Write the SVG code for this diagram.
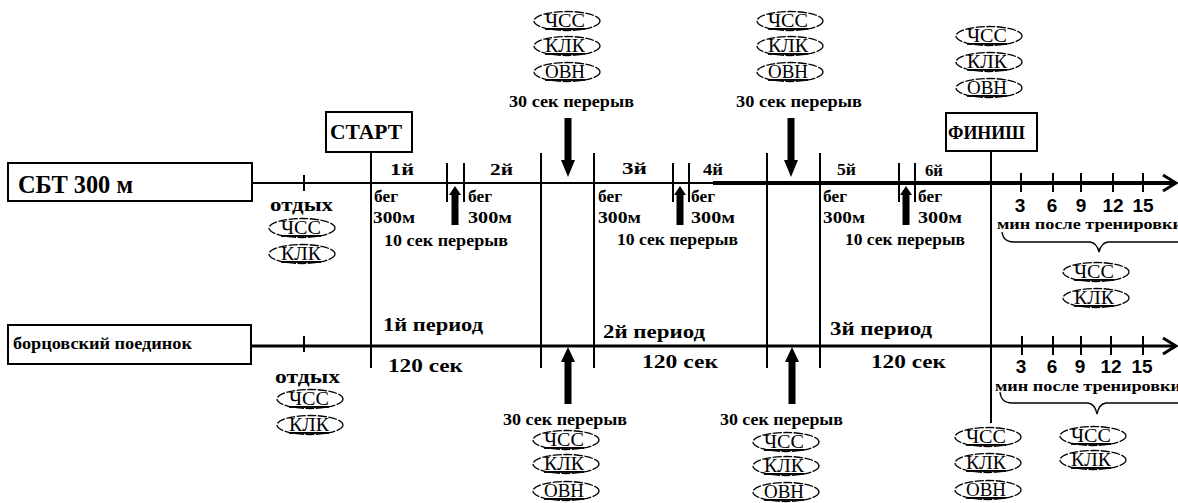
<svg xmlns="http://www.w3.org/2000/svg" width="1178" height="503" viewBox="0 0 1178 503">
  <style>
    .b { font-family: "Liberation Serif", "Times New Roman", serif; font-weight: bold; fill: #000; }
    .n { font-family: "Liberation Sans", Arial, sans-serif; font-weight: bold; font-size: 19px; fill: #000; text-anchor: middle; }
    .m { font-family: "Liberation Serif", "Times New Roman", serif; font-size: 19px; fill: #000; text-anchor: middle; text-decoration: underline; }
    .e { fill: #fff; stroke: #000; stroke-width: 1.3; stroke-dasharray: 9 1.5; }
    .box { fill: #fff; stroke: #000; stroke-width: 2; }
    .ln { stroke: #000; stroke-width: 2; fill: none; }
    .thk { stroke: #000; stroke-width: 3; fill: none; }
    .arr { fill: #000; stroke: none; }
    .brace { fill: none; stroke: #000; stroke-width: 1.3; }
  </style>
  <defs>
    <!-- measurement badge: dashed ellipse with underlined label -->
    <ellipse id="ov" class="e" cx="0" cy="0" rx="33" ry="9.5"/>
    <!-- large break arrow pointing down (tip at origin) -->
    <path id="dn" class="arr" d="M-3.5,-59 L3.5,-59 L3.5,-17 L7,-17 L0,0 L-7,-17 L-3.5,-17 Z"/>
    <!-- large break arrow pointing up (tip at origin) -->
    <path id="up" class="arr" d="M-3.5,57 L3.5,57 L3.5,15 L7,15 L0,0 L-7,15 L-3.5,15 Z"/>
    <!-- short rest arrow pointing up (tip at origin) -->
    <path id="upS" class="arr" d="M-3.5,39 L3.5,39 L3.5,9 L6,9 L0,0 L-6,9 L-3.5,9 Z"/>
  </defs>

  <!-- connectors: time axes, dividers, ticks, arrows, braces -->
  <g id="connectors">
    <!-- upper axis -->
    <line class="ln" x1="252" y1="183" x2="715" y2="183"/>
    <line x1="713" y1="183" x2="1174" y2="183" stroke="#000" stroke-width="4"/>
    <polyline class="thk" points="1163,175 1176,183 1163,191"/>
    <line class="ln" x1="304" y1="175" x2="304" y2="191"/>
    <!-- lower axis -->
    <line class="thk" x1="251" y1="346" x2="1174" y2="346"/>
    <polyline class="thk" points="1163,338 1176,346 1163,354"/>
    <line class="ln" x1="304" y1="336" x2="304" y2="352"/>

    <!-- long period dividers -->
    <line class="ln" x1="371" y1="152" x2="371" y2="368"/>
    <line class="ln" x1="541" y1="153" x2="541" y2="368"/>
    <line class="ln" x1="594" y1="153" x2="594" y2="368"/>
    <line class="ln" x1="767" y1="153" x2="767" y2="368"/>
    <line class="ln" x1="820" y1="153" x2="820" y2="368"/>
    <line class="ln" x1="991" y1="151" x2="991" y2="423"/>

    <!-- short rest markers -->
    <line class="ln" x1="447" y1="163" x2="447" y2="202"/>
    <line class="ln" x1="464" y1="163" x2="464" y2="202"/>
    <line class="ln" x1="673" y1="163" x2="673" y2="202"/>
    <line class="ln" x1="689" y1="163" x2="689" y2="202"/>
    <line class="ln" x1="899" y1="163" x2="899" y2="202"/>
    <line class="ln" x1="915" y1="163" x2="915" y2="202"/>
    <use href="#upS" x="455" y="186"/>
    <use href="#upS" x="680" y="186"/>
    <use href="#upS" x="906" y="186"/>

    <!-- 30 s break arrows -->
    <use href="#dn" x="568" y="177"/>
    <use href="#dn" x="791" y="177"/>
    <use href="#up" x="568" y="347"/>
    <use href="#up" x="792" y="347"/>

    <!-- minute ticks, upper axis -->
    <line class="ln" x1="1021" y1="173" x2="1021" y2="192"/>
    <line class="ln" x1="1053" y1="173" x2="1053" y2="192"/>
    <line class="ln" x1="1081" y1="173" x2="1081" y2="192"/>
    <line class="ln" x1="1113" y1="173" x2="1113" y2="192"/>
    <line class="ln" x1="1143" y1="173" x2="1143" y2="192"/>
    <!-- minute ticks, lower axis -->
    <line class="ln" x1="1022" y1="336" x2="1022" y2="355"/>
    <line class="ln" x1="1053" y1="336" x2="1053" y2="355"/>
    <line class="ln" x1="1081" y1="336" x2="1081" y2="355"/>
    <line class="ln" x1="1111" y1="336" x2="1111" y2="355"/>
    <line class="ln" x1="1143" y1="336" x2="1143" y2="355"/>

    <!-- braces under the recovery scale -->
    <path class="brace" d="M1002,232 Q1003,242 1014,242 L1090,242 Q1097,243 1099,252 Q1101,243 1108,242 L1180,242"/>
    <path class="brace" d="M1000,392 Q1001,403 1012,403 L1088,403 Q1095,404 1097,414 Q1099,404 1106,403 L1180,403"/>
  </g>

  <!-- row labels -->
  <g id="sbt-label">
    <rect class="box" x="8" y="163" width="244" height="38"/>
    <text class="b" x="18" y="193" font-size="25" textLength="115" lengthAdjust="spacingAndGlyphs">СБТ 300 м</text>
  </g>
  <g id="bout-label">
    <rect class="box" x="8" y="325" width="243" height="39"/>
    <text class="b" x="13" y="349" font-size="16" textLength="179" lengthAdjust="spacingAndGlyphs">борцовский поединок</text>
  </g>

  <g id="start">
    <rect class="box" x="326" y="112" width="86" height="40"/>
    <text class="b" x="330" y="139" font-size="20" textLength="72" lengthAdjust="spacingAndGlyphs">СТАРТ</text>
  </g>
  <g id="finish">
    <rect class="box" x="946" y="113" width="91" height="38"/>
    <text class="b" x="948" y="139" font-size="19" textLength="77" lengthAdjust="spacingAndGlyphs">ФИНИШ</text>
  </g>

  <!-- rest before the run -->
  <g id="rest-top">
    <text class="b" x="270" y="211" font-size="18" textLength="63" lengthAdjust="spacingAndGlyphs">отдых</text>
    <use href="#ov" x="302" y="228"/><text class="m" x="301" y="234" textLength="40" lengthAdjust="spacingAndGlyphs">ЧСС</text>
    <use href="#ov" x="302" y="254"/><text class="m" x="301" y="260" textLength="40" lengthAdjust="spacingAndGlyphs">КЛК</text>
  </g>

  <!-- run segments -->
  <g id="runs" class="b" font-size="17">
    <text x="390" y="175" textLength="24" lengthAdjust="spacingAndGlyphs">1й</text>
    <text x="490" y="175" textLength="23" lengthAdjust="spacingAndGlyphs">2й</text>
    <text x="622" y="174" textLength="25" lengthAdjust="spacingAndGlyphs">3й</text>
    <text x="703" y="175" textLength="20" lengthAdjust="spacingAndGlyphs">4й</text>
    <text x="837" y="175" textLength="19" lengthAdjust="spacingAndGlyphs">5й</text>
    <text x="925" y="176" textLength="18" lengthAdjust="spacingAndGlyphs">6й</text>

    <g font-size="16">
      <text x="374" y="202" textLength="24" lengthAdjust="spacingAndGlyphs">бег</text>
      <text x="373" y="223" textLength="42" lengthAdjust="spacingAndGlyphs">300м</text>
      <text x="468" y="202" textLength="24" lengthAdjust="spacingAndGlyphs">бег</text>
      <text x="468" y="223" textLength="44" lengthAdjust="spacingAndGlyphs">300м</text>
      <text x="598" y="202" textLength="24" lengthAdjust="spacingAndGlyphs">бег</text>
      <text x="598" y="223" textLength="43" lengthAdjust="spacingAndGlyphs">300м</text>
      <text x="691" y="202" textLength="24" lengthAdjust="spacingAndGlyphs">бег</text>
      <text x="691" y="223" textLength="44" lengthAdjust="spacingAndGlyphs">300м</text>
      <text x="823" y="202" textLength="24" lengthAdjust="spacingAndGlyphs">бег</text>
      <text x="823" y="223" textLength="42" lengthAdjust="spacingAndGlyphs">300м</text>
      <text x="918" y="202" textLength="24" lengthAdjust="spacingAndGlyphs">бег</text>
      <text x="918" y="223" textLength="44" lengthAdjust="spacingAndGlyphs">300м</text>

      <text x="384" y="246" textLength="124" lengthAdjust="spacingAndGlyphs">10 сек перерыв</text>
      <text x="617" y="245" textLength="121" lengthAdjust="spacingAndGlyphs">10 сек перерыв</text>
      <text x="845" y="245" textLength="120" lengthAdjust="spacingAndGlyphs">10 сек перерыв</text>
    </g>
  </g>

  <!-- 30 s breaks on the run row -->
  <g id="break-top-1">
    <use href="#ov" x="567" y="21"/><text class="m" x="565" y="27" textLength="40" lengthAdjust="spacingAndGlyphs">ЧСС</text>
    <use href="#ov" x="567" y="46"/><text class="m" x="565" y="52" textLength="40" lengthAdjust="spacingAndGlyphs">КЛК</text>
    <use href="#ov" x="567" y="72"/><text class="m" x="565" y="78" textLength="40" lengthAdjust="spacingAndGlyphs">ОВН</text>
    <text class="b" x="509" y="107" font-size="16" textLength="125" lengthAdjust="spacingAndGlyphs">30 сек перерыв</text>
  </g>
  <g id="break-top-2">
    <use href="#ov" x="790" y="21"/><text class="m" x="788" y="27" textLength="40" lengthAdjust="spacingAndGlyphs">ЧСС</text>
    <use href="#ov" x="790" y="46"/><text class="m" x="788" y="52" textLength="40" lengthAdjust="spacingAndGlyphs">КЛК</text>
    <use href="#ov" x="790" y="72"/><text class="m" x="788" y="78" textLength="40" lengthAdjust="spacingAndGlyphs">ОВН</text>
    <text class="b" x="736" y="107" font-size="16" textLength="126" lengthAdjust="spacingAndGlyphs">30 сек перерыв</text>
  </g>
  <g id="finish-top">
    <use href="#ov" x="989" y="36"/><text class="m" x="987" y="42" textLength="40" lengthAdjust="spacingAndGlyphs">ЧСС</text>
    <use href="#ov" x="989" y="62"/><text class="m" x="987" y="68" textLength="40" lengthAdjust="spacingAndGlyphs">КЛК</text>
    <use href="#ov" x="989" y="88"/><text class="m" x="987" y="94" textLength="40" lengthAdjust="spacingAndGlyphs">ОВН</text>
  </g>

  <!-- recovery scale, upper row -->
  <g id="recovery-top">
    <text class="n" x="1020" y="212">3</text>
    <text class="n" x="1052" y="212">6</text>
    <text class="n" x="1081" y="212">9</text>
    <text class="n" x="1113" y="212">12</text>
    <text class="n" x="1143" y="212">15</text>
    <text class="b" x="997" y="229" font-size="14" textLength="186" lengthAdjust="spacingAndGlyphs">мин после тренировки</text>
    <use href="#ov" x="1096" y="272"/><text class="m" x="1094" y="278" textLength="40" lengthAdjust="spacingAndGlyphs">ЧСС</text>
    <use href="#ov" x="1096" y="298"/><text class="m" x="1094" y="304" textLength="40" lengthAdjust="spacingAndGlyphs">КЛК</text>
  </g>

  <!-- bout periods -->
  <g id="periods" class="b">
    <text x="383" y="331" font-size="18" textLength="100" lengthAdjust="spacingAndGlyphs">1й период</text>
    <text x="388" y="372" font-size="19" textLength="75" lengthAdjust="spacingAndGlyphs">120 сек</text>
    <text x="603" y="338" font-size="18" textLength="102" lengthAdjust="spacingAndGlyphs">2й период</text>
    <text x="642" y="368" font-size="19" textLength="76" lengthAdjust="spacingAndGlyphs">120 сек</text>
    <text x="830" y="335" font-size="18" textLength="102" lengthAdjust="spacingAndGlyphs">3й период</text>
    <text x="871" y="368" font-size="19" textLength="75" lengthAdjust="spacingAndGlyphs">120 сек</text>
  </g>

  <!-- rest before the bout -->
  <g id="rest-bottom">
    <text class="b" x="275" y="383" font-size="18" textLength="65" lengthAdjust="spacingAndGlyphs">отдых</text>
    <use href="#ov" x="310" y="399"/><text class="m" x="309" y="405" textLength="40" lengthAdjust="spacingAndGlyphs">ЧСС</text>
    <use href="#ov" x="310" y="425"/><text class="m" x="309" y="431" textLength="40" lengthAdjust="spacingAndGlyphs">КЛК</text>
  </g>

  <!-- 30 s breaks between periods -->
  <g id="break-bottom-1">
    <text class="b" x="503" y="425" font-size="16" textLength="124" lengthAdjust="spacingAndGlyphs">30 сек перерыв</text>
    <use href="#ov" x="566" y="440"/><text class="m" x="564" y="446" textLength="40" lengthAdjust="spacingAndGlyphs">ЧСС</text>
    <use href="#ov" x="566" y="464"/><text class="m" x="564" y="470" textLength="40" lengthAdjust="spacingAndGlyphs">КЛК</text>
    <use href="#ov" x="566" y="491"/><text class="m" x="564" y="497" textLength="40" lengthAdjust="spacingAndGlyphs">ОВН</text>
  </g>
  <g id="break-bottom-2">
    <text class="b" x="720" y="425" font-size="16" textLength="123" lengthAdjust="spacingAndGlyphs">30 сек перерыв</text>
    <use href="#ov" x="786" y="442"/><text class="m" x="784" y="448" textLength="40" lengthAdjust="spacingAndGlyphs">ЧСС</text>
    <use href="#ov" x="786" y="466"/><text class="m" x="784" y="472" textLength="40" lengthAdjust="spacingAndGlyphs">КЛК</text>
    <use href="#ov" x="786" y="492"/><text class="m" x="784" y="498" textLength="40" lengthAdjust="spacingAndGlyphs">ОВН</text>
  </g>
  <g id="finish-bottom">
    <use href="#ov" x="988" y="437"/><text class="m" x="986" y="443" textLength="40" lengthAdjust="spacingAndGlyphs">ЧСС</text>
    <use href="#ov" x="988" y="463"/><text class="m" x="986" y="469" textLength="40" lengthAdjust="spacingAndGlyphs">КЛК</text>
    <use href="#ov" x="988" y="490"/><text class="m" x="986" y="496" textLength="40" lengthAdjust="spacingAndGlyphs">ОВН</text>
  </g>

  <!-- recovery scale, lower row -->
  <g id="recovery-bottom">
    <text class="n" x="1021" y="373">3</text>
    <text class="n" x="1052" y="373">6</text>
    <text class="n" x="1080" y="373">9</text>
    <text class="n" x="1111" y="373">12</text>
    <text class="n" x="1142" y="373">15</text>
    <text class="b" x="995" y="391" font-size="14" textLength="186" lengthAdjust="spacingAndGlyphs">мин после тренировки</text>
    <use href="#ov" x="1093" y="436"/><text class="m" x="1091" y="442" textLength="40" lengthAdjust="spacingAndGlyphs">ЧСС</text>
    <use href="#ov" x="1093" y="460"/><text class="m" x="1091" y="466" textLength="40" lengthAdjust="spacingAndGlyphs">КЛК</text>
  </g>
</svg>
